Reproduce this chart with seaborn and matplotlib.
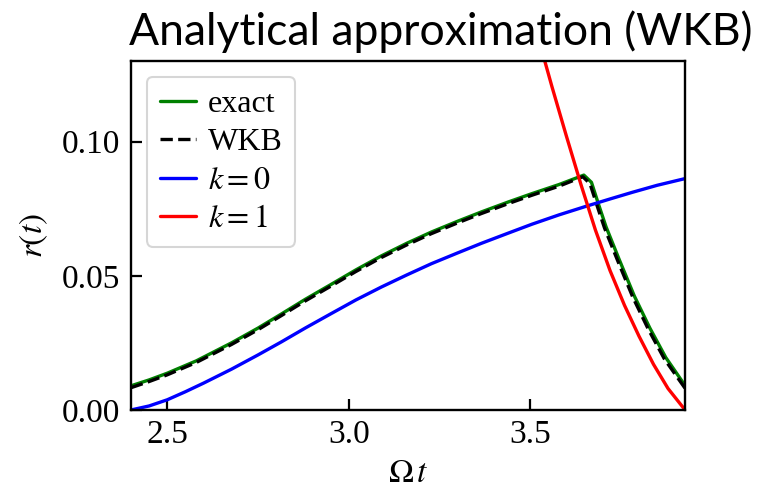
import matplotlib
matplotlib.use("Agg")
import matplotlib.pyplot as plt
import seaborn as sns

# Ωt samples and r(t) curves
t_exact = [2.400, 2.450, 2.500, 2.580, 2.677, 2.750, 2.815, 2.880, 2.953, 3.020,
           3.090, 3.160, 3.228, 3.300, 3.366, 3.440, 3.505, 3.580, 3.648, 3.669,
           3.690, 3.709, 3.745, 3.787, 3.830, 3.874, 3.930]
r_exact = [0.0090, 0.0112, 0.0137, 0.0183, 0.0250, 0.0305, 0.0358, 0.0412, 0.0469, 0.0522,
           0.0574, 0.0621, 0.0663, 0.0703, 0.0738, 0.0775, 0.0806, 0.0840, 0.0875, 0.0848,
           0.0760, 0.0683, 0.0562, 0.0425, 0.0305, 0.0195, 0.0085]

t_wkb = [2.400, 2.450, 2.500, 2.580, 2.677, 2.750, 2.815, 2.880, 2.953, 3.020,
         3.090, 3.160, 3.228, 3.300, 3.366, 3.440, 3.505, 3.580, 3.645, 3.665,
         3.686, 3.705, 3.741, 3.783, 3.826, 3.870, 3.930]
r_wkb = [0.0083, 0.0106, 0.0131, 0.0177, 0.0244, 0.0299, 0.0352, 0.0406, 0.0463, 0.0516,
         0.0568, 0.0615, 0.0657, 0.0697, 0.0732, 0.0769, 0.0800, 0.0834, 0.0869, 0.0843,
         0.0755, 0.0678, 0.0557, 0.0420, 0.0300, 0.0190, 0.0075]

t_k0 = [2.400, 2.450, 2.500, 2.550, 2.600, 2.677, 2.750, 2.815, 2.880, 2.953,
        3.020, 3.090, 3.160, 3.228, 3.300, 3.366, 3.440, 3.505, 3.580, 3.657,
        3.720, 3.782, 3.850, 3.927]
r_k0 = [0.0000, 0.0015, 0.0038, 0.0068, 0.0100, 0.0152, 0.0205, 0.0254, 0.0305, 0.0360,
        0.0410, 0.0458, 0.0503, 0.0545, 0.0585, 0.0621, 0.0659, 0.0692, 0.0727, 0.0760,
        0.0786, 0.0811, 0.0837, 0.0862]

t_k1 = [3.530, 3.560, 3.600, 3.640, 3.680, 3.720, 3.760, 3.800, 3.840, 3.880, 3.927]
r_k1 = [0.1350, 0.1205, 0.1020, 0.0840, 0.0670, 0.0520, 0.0390, 0.0275, 0.0170, 0.0080, 0.0000]

series_labels = ["exact", "WKB", "$k=0$", "$k=1$"]
x_ticks = [2.5, 3.0, 3.5]
y_ticks = [0.00, 0.05, 0.10]

sns.set_style("ticks")
plt.rcParams["font.family"] = ["Liberation Serif", "DejaVu Serif"]
plt.rcParams["mathtext.fontset"] = "stix"
for key in ["text.color", "axes.labelcolor", "xtick.color", "ytick.color", "axes.edgecolor"]:
    plt.rcParams[key] = "black"

fig = plt.figure(figsize=(7.57, 4.92), dpi=100)
ax = fig.add_axes([0.173, 0.1667, 0.732, 0.7093])

lw = 2.4
sns.lineplot(x=t_exact, y=r_exact, ax=ax, color="green", lw=lw, estimator=None,
             label=series_labels[0])
sns.lineplot(x=t_wkb, y=r_wkb, ax=ax, color="black", lw=lw, linestyle="--", estimator=None,
             label=series_labels[1])
sns.lineplot(x=t_k0, y=r_k0, ax=ax, color="blue", lw=lw, estimator=None,
             label=series_labels[2])
sns.lineplot(x=t_k1, y=r_k1, ax=ax, color="red", lw=lw, estimator=None,
             label=series_labels[3])

ax.set_xlim(2.4, 3.927)
ax.set_ylim(0.0, 0.13)
ax.set_xticks(x_ticks)
ax.set_yticks(y_ticks)
ax.set_xticklabels([f"{v:.1f}" for v in x_ticks])
ax.set_yticklabels([f"{v:.2f}" for v in y_ticks])
ax.tick_params(axis="both", direction="in", length=8, width=1.6, labelsize=24,
               colors="black")
ax.tick_params(axis="x", pad=7)
ax.tick_params(axis="y", pad=8)
for s in ax.spines.values():
    s.set_linewidth(1.7)
    s.set_color("black")
    s.set_visible(True)

ax.set_xlabel(r"$\Omega\,t$", fontsize=24, labelpad=6)
ax.set_ylabel(r"$r(t)$", fontsize=24, labelpad=8)

leg = ax.legend(loc="upper left", fontsize=23, handlelength=1.15, handletextpad=0.35,
                labelspacing=0.28, borderaxespad=0.5, borderpad=0.4, frameon=True,
                fancybox=True)
leg.get_frame().set_edgecolor("#cccccc")
leg.get_frame().set_linewidth(1.5)
for txt in leg.get_texts():
    txt.set_color("black")

fig.text(0.582, 0.9085, "Analytical approximation (WKB)", family=["Lato", "DejaVu Sans"],
         fontsize=32, ha="center", va="baseline", color="black")

fig.savefig("out.png", dpi=100, facecolor="white")
